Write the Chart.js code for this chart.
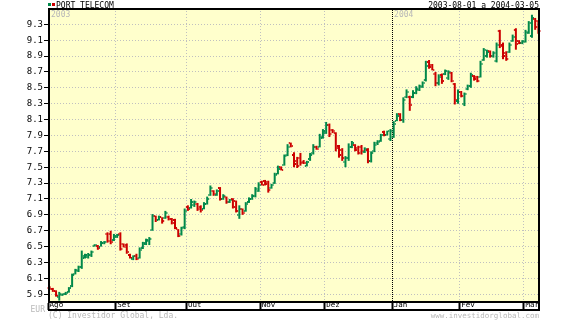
<!DOCTYPE html>
<html>
<head>
<meta charset="utf-8">
<script src="https://cdn.jsdelivr.net/npm/chart.js@4.4.0/dist/chart.umd.min.js"></script>
<style>
  html, body { margin: 0; padding: 0; background: #fff; }
  #wrap { width: 569px; height: 320px; }
</style>
</head>
<body>
<div id="wrap"><canvas id="ptChart" width="569" height="320"></canvas></div>
<script>
/* PORT TELECOM - cotações diárias (barras OHLC)
   2003-08-01 a 2004-03-05 */

const title = "PORT TELECOM";
const period = "2003-08-01 a 2004-03-05";
const months = ["Ago", "Set", "Out", "Nov", "Dez", "Jan", "Fev", "Mar"];
const daysPerMonth = [21, 22, 23, 20, 21, 21, 20, 5];
const years = ["2003", "2004"];
const yTicks = [5.9, 6.1, 6.3, 6.5, 6.7, 6.9, 7.1, 7.3, 7.5, 7.7, 7.9, 8.1, 8.3, 8.5, 8.7, 8.9, 9.1, 9.3];

const opens = [
  5.98, 5.97, 5.94, 5.86, 5.89, 5.90, 5.93, 6.00, 6.16, 6.19, 6.24, 6.36, 6.37, 6.39, 6.51, 6.51, 6.50, 6.54, 6.66, 6.66, 6.58,
  6.62, 6.66, 6.53, 6.52, 6.40, 6.35, 6.38, 6.36, 6.48, 6.53, 6.57, 6.71, 6.88, 6.84, 6.87, 6.86, 6.87, 6.85, 6.84, 6.72, 6.66, 6.75,
  7.00, 6.99, 7.02, 7.04, 7.00, 6.98, 7.04, 7.15, 7.20, 7.15, 7.24, 7.10, 7.12, 7.06, 7.10, 7.07, 6.90, 6.97, 6.95, 7.06, 7.10, 7.14, 7.20,
  7.32, 7.33, 7.31, 7.24, 7.30, 7.42, 7.50, 7.53, 7.66, 7.80, 7.66, 7.58, 7.62, 7.57, 7.52, 7.60, 7.68, 7.76, 7.76, 7.87,
  7.93, 8.03, 7.97, 7.93, 7.77, 7.72, 7.56, 7.62, 7.75, 7.78, 7.74, 7.76, 7.69, 7.72, 7.58, 7.70, 7.80, 7.83, 7.94, 7.91, 7.85,
  7.88, 8.08, 8.17, 8.10, 8.38, 8.38, 8.38, 8.44, 8.47, 8.51, 8.60, 8.83, 8.79, 8.68, 8.56, 8.66, 8.67, 8.62, 8.69, 8.55, 8.33,
  8.45, 8.29, 8.48, 8.52, 8.65, 8.64, 8.64, 8.85, 8.90, 8.96, 8.90, 8.84, 9.21, 9.04, 8.94, 8.95, 9.09, 9.23, 9.09, 9.06,
  9.08, 9.19, 9.15, 9.37, 9.34
];
const highs = [
  6.00, 5.98, 5.95, 5.93, 5.91, 5.93, 5.99, 6.16, 6.22, 6.26, 6.45, 6.41, 6.42, 6.45, 6.53, 6.52, 6.57, 6.57, 6.68, 6.70, 6.66,
  6.66, 6.68, 6.54, 6.54, 6.41, 6.39, 6.41, 6.49, 6.56, 6.60, 6.62, 6.91, 6.89, 6.89, 6.87, 6.95, 6.89, 6.86, 6.85, 6.72, 6.75, 6.98,
  7.02, 7.10, 7.08, 7.05, 7.02, 7.06, 7.13, 7.27, 7.21, 7.22, 7.25, 7.16, 7.13, 7.10, 7.11, 7.08, 7.02, 6.98, 7.06, 7.12, 7.16, 7.25, 7.31,
  7.33, 7.34, 7.33, 7.29, 7.43, 7.52, 7.51, 7.66, 7.79, 7.81, 7.69, 7.63, 7.68, 7.59, 7.58, 7.68, 7.79, 7.77, 7.92, 7.98,
  8.07, 8.05, 7.98, 7.94, 7.78, 7.74, 7.64, 7.80, 7.83, 7.79, 7.77, 7.78, 7.75, 7.74, 7.70, 7.82, 7.84, 7.92, 7.96, 7.96, 7.98,
  8.08, 8.18, 8.18, 8.38, 8.48, 8.40, 8.47, 8.52, 8.54, 8.58, 8.84, 8.85, 8.80, 8.70, 8.67, 8.68, 8.73, 8.72, 8.70, 8.56, 8.48,
  8.46, 8.44, 8.54, 8.69, 8.66, 8.65, 8.84, 9.00, 8.98, 8.97, 8.96, 9.07, 9.23, 9.07, 8.96, 9.07, 9.17, 9.25, 9.10, 9.10,
  9.23, 9.34, 9.42, 9.38, 9.35
];
const lows = [
  5.96, 5.93, 5.87, 5.82, 5.88, 5.89, 5.92, 5.99, 6.15, 6.18, 6.22, 6.35, 6.35, 6.37, 6.50, 6.46, 6.50, 6.53, 6.55, 6.53, 6.57,
  6.61, 6.45, 6.49, 6.41, 6.35, 6.33, 6.33, 6.35, 6.47, 6.52, 6.52, 6.70, 6.81, 6.83, 6.79, 6.85, 6.83, 6.78, 6.72, 6.62, 6.64, 6.72,
  6.95, 6.98, 7.00, 6.95, 6.93, 6.97, 7.03, 7.14, 7.14, 7.14, 7.08, 7.09, 7.04, 7.05, 6.98, 6.93, 6.85, 6.90, 6.94, 7.05, 7.09, 7.12, 7.19,
  7.27, 7.27, 7.18, 7.23, 7.29, 7.41, 7.46, 7.52, 7.64, 7.75, 7.50, 7.49, 7.52, 7.54, 7.51, 7.58, 7.66, 7.72, 7.75, 7.86,
  7.92, 7.88, 7.93, 7.70, 7.62, 7.58, 7.50, 7.58, 7.74, 7.70, 7.66, 7.66, 7.68, 7.55, 7.56, 7.69, 7.78, 7.82, 7.89, 7.90, 7.83,
  7.87, 8.08, 8.08, 8.06, 8.37, 8.21, 8.37, 8.42, 8.46, 8.50, 8.58, 8.74, 8.72, 8.52, 8.53, 8.55, 8.66, 8.60, 8.57, 8.29, 8.30,
  8.38, 8.27, 8.47, 8.50, 8.59, 8.57, 8.63, 8.84, 8.88, 8.88, 8.88, 8.82, 9.00, 8.86, 8.84, 8.94, 9.08, 8.98, 9.05, 9.05,
  9.07, 9.18, 9.13, 9.23, 9.18
];
const closes = [
  5.97, 5.94, 5.88, 5.90, 5.90, 5.92, 5.98, 6.14, 6.20, 6.24, 6.38, 6.39, 6.40, 6.43, 6.52, 6.48, 6.55, 6.56, 6.57, 6.56, 6.64,
  6.65, 6.47, 6.50, 6.43, 6.36, 6.38, 6.35, 6.46, 6.54, 6.58, 6.60, 6.88, 6.84, 6.87, 6.82, 6.92, 6.85, 6.80, 6.74, 6.64, 6.73, 6.95,
  6.97, 7.06, 7.06, 6.98, 6.96, 7.04, 7.10, 7.24, 7.16, 7.20, 7.10, 7.14, 7.06, 7.09, 7.00, 6.95, 6.98, 6.92, 7.04, 7.10, 7.14, 7.22, 7.28,
  7.28, 7.29, 7.21, 7.28, 7.40, 7.48, 7.47, 7.64, 7.76, 7.77, 7.54, 7.52, 7.55, 7.55, 7.57, 7.66, 7.76, 7.73, 7.88, 7.95,
  8.03, 7.92, 7.95, 7.74, 7.65, 7.61, 7.62, 7.76, 7.80, 7.72, 7.68, 7.70, 7.73, 7.58, 7.68, 7.78, 7.82, 7.90, 7.90, 7.95, 7.96,
  8.05, 8.15, 8.10, 8.35, 8.45, 8.28, 8.44, 8.48, 8.52, 8.56, 8.78, 8.76, 8.73, 8.56, 8.64, 8.58, 8.71, 8.70, 8.59, 8.35, 8.45,
  8.40, 8.42, 8.52, 8.66, 8.61, 8.59, 8.80, 8.97, 8.95, 8.90, 8.94, 9.04, 9.03, 8.90, 8.86, 9.04, 9.14, 9.05, 9.06, 9.09,
  9.20, 9.31, 9.38, 9.26, 9.22
];

const colors = {
  up: "#00884a",
  down: "#cc0000",
  plot: "#ffffcc",
  grid: "#c0c0c0",
  faint: "#b8b8b8"
};
const mono = "'DejaVu Sans Mono', 'Liberation Mono', monospace";

// índice do primeiro dia de cada mês
const monthAt = {};
let acc = 0;
daysPerMonth.forEach((n, k) => { monthAt[acc] = months[k]; acc += n; });
const janIdx = daysPerMonth.slice(0, 5).reduce((a, b) => a + b, 0);
const labels = opens.map((_, i) => String(i));

function isUp(i) { return closes[i] >= opens[i]; }

// fundo amarelo da área do gráfico
const plotBg = {
  id: "plotBg",
  beforeDraw(chart) {
    const { ctx, chartArea: a } = chart;
    ctx.save();
    ctx.fillStyle = "#fff";
    ctx.fillRect(0, 0, chart.width, chart.height);
    ctx.fillStyle = colors.plot;
    ctx.fillRect(a.left, a.top, a.right - a.left, a.bottom - a.top);
    ctx.restore();
  }
};

// traços de abertura (esquerda) e fecho (direita)
const ohlcTicks = {
  id: "ohlcTicks",
  afterDatasetsDraw(chart) {
    const ctx = chart.ctx;
    const y = chart.scales.y;
    const meta = chart.getDatasetMeta(0);
    ctx.save();
    meta.data.forEach((bar, i) => {
      ctx.fillStyle = isUp(i) ? colors.up : colors.down;
      const yo = Math.round(y.getPixelForValue(opens[i]));
      const yc = Math.round(y.getPixelForValue(closes[i]));
      ctx.fillRect(bar.x - 2, yo - 1, 1, 2);
      ctx.fillRect(bar.x + 1, yc - 1, 1, 2);
    });
    ctx.restore();
  }
};

// moldura, faixa dos meses e textos
const frame = {
  id: "frame",
  afterDraw(chart) {
    const { ctx, chartArea: a } = chart;
    const x = chart.scales.x;
    const step = x.getPixelForValue(1) - x.getPixelForValue(0);
    ctx.save();
    ctx.strokeStyle = "#000";
    ctx.lineWidth = 2;
    ctx.strokeRect(a.left + 1, a.top + 1, a.right - a.left - 2, a.bottom - a.top - 2);
    ctx.fillStyle = "#000";
    ctx.fillRect(a.left, a.bottom + 6, a.right - a.left, 2);
    ctx.fillRect(a.right - 2, a.bottom, 2, 8);

    // anos
    ctx.fillStyle = colors.faint;
    ctx.font = "8px " + mono;
    ctx.textBaseline = "alphabetic";
    ctx.textAlign = "left";
    ctx.fillText(years[0], a.left + 3, 17);
    ctx.fillText(years[1], x.getPixelForValue(janIdx) - step / 2 + 2, 17);

    // cabeçalho
    ctx.fillStyle = colors.up;
    ctx.fillRect(48, 3, 3, 3);
    ctx.fillStyle = colors.down;
    ctx.fillRect(52, 3, 3, 3);
    ctx.fillStyle = "#000";
    ctx.font = "8px " + mono;
    ctx.fillText(title, 56, 8);
    ctx.textAlign = "right";
    ctx.fillText(period, 539, 8);

    // rodapé
    ctx.fillStyle = colors.faint;
    ctx.fillText("EUR", 45, 312);
    ctx.textAlign = "left";
    ctx.fillText("(C) Investidor Global, Lda.", 48, 318);
    ctx.textAlign = "right";
    ctx.font = "7.5px " + mono;
    ctx.fillText("www.investidorglobal.com", 539, 318);
    ctx.restore();
  }
};

new Chart(document.getElementById("ptChart").getContext("2d"), {
  type: "bar",
  data: {
    labels: labels,
    datasets: [
      {
        data: lows.map((l, i) => [l, highs[i]]),
        backgroundColor: (c) => (isUp(c.dataIndex) ? colors.up : colors.down),
        barThickness: 2,
        inflateAmount: 0,
        borderWidth: 0
      }
    ]
  },
  options: {
    responsive: false,
    animation: false,
    devicePixelRatio: 1,
    layout: { padding: { top: 8, right: 29, bottom: 0, left: 0 } },
    plugins: {
      legend: { display: false },
      tooltip: { enabled: false }
    },
    scales: {
      x: {
        type: "category",
        offset: true,
        afterFit: (s) => { s.height = 17; },
        grid: {
          offset: true,
          lineWidth: 1,
          color: (c) => (c.index > 0 && monthAt[c.index]) ? (c.index === janIdx ? "#000" : colors.grid) : "rgba(0,0,0,0)",
          drawTicks: true,
          tickLength: 7,
          tickWidth: 2,
          tickColor: (c) => (monthAt[c.index] ? "#000" : "rgba(0,0,0,0)")
        },
        border: { display: false, dash: (c) => (c.index === janIdx ? [1, 1] : [1, 2]) },
        ticks: {
          autoSkip: false,
          maxRotation: 0,
          minRotation: 0,
          align: "start",
          padding: -9,
          color: "#000",
          font: { family: mono, size: 7.5 },
          callback: (v, i) => monthAt[i] || ""
        }
      },
      y: {
        min: 5.79,
        max: 9.505,
        afterBuildTicks: (s) => { s.ticks = yTicks.map((v) => ({ value: v })); },
        afterFit: (s) => { s.width = 48; },
        grid: {
          color: colors.grid,
          lineWidth: 1,
          drawTicks: true,
          tickLength: 4,
          tickWidth: 1,
          tickColor: "#000"
        },
        border: { display: false, dash: [1, 2] },
        ticks: {
          padding: 1,
          color: "#000",
          font: { family: mono, size: 9 },
          callback: (v) => Number(v).toFixed(1)
        }
      }
    }
  },
  plugins: [plotBg, ohlcTicks, frame]
});
</script>
</body>
</html>
